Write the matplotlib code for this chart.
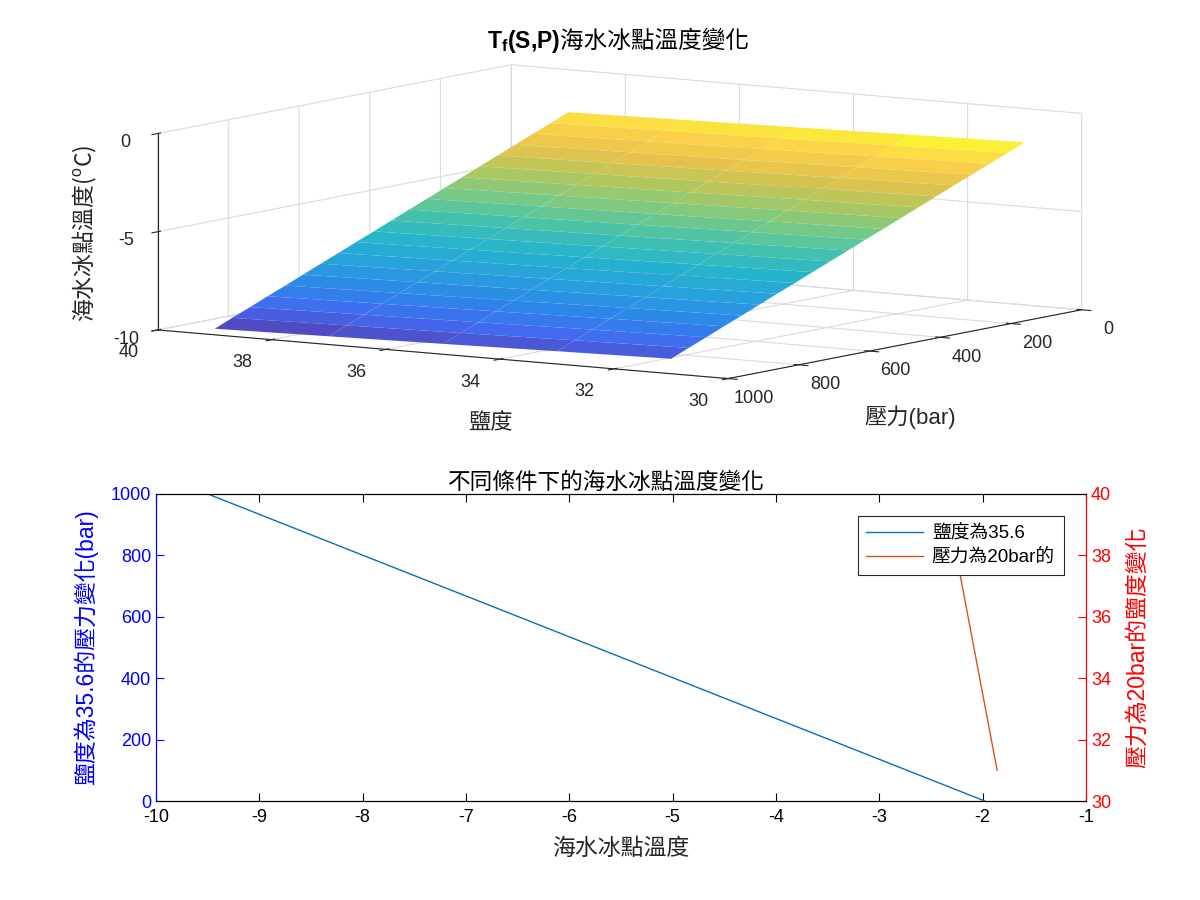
import numpy as np
import matplotlib
matplotlib.use('Agg')
import matplotlib.pyplot as plt
from matplotlib.colors import LinearSegmentedColormap

plt.rcParams['font.family'] = ['Liberation Sans', 'Noto Sans CJK TC', 'DejaVu Sans']
plt.rcParams['axes.unicode_minus'] = False
plt.rcParams['mathtext.fontset'] = 'custom'
plt.rcParams['mathtext.rm'] = 'Noto Sans CJK TC'
plt.rcParams['mathtext.it'] = 'Liberation Sans'
plt.rcParams['mathtext.bf'] = 'Liberation Sans:bold'

# surface: freezing point (rows = salinity, cols = pressure)
salinity = [31, 33, 35, 37, 39]
pressure = [0, 50, 100, 150, 200, 250, 300, 350, 400, 450, 500,
            550, 600, 650, 700, 750, 800, 850, 900, 950, 1000]
tf_table = [
    [-1.72, -2.10, -2.47, -2.85, -3.22, -3.60, -3.98, -4.35, -4.73, -5.10, -5.48,
     -5.86, -6.23, -6.61, -6.98, -7.36, -7.74, -8.11, -8.49, -8.86, -9.24],
    [-1.83, -2.21, -2.58, -2.96, -3.33, -3.71, -4.09, -4.46, -4.84, -5.21, -5.59,
     -5.97, -6.34, -6.72, -7.09, -7.47, -7.85, -8.22, -8.60, -8.97, -9.35],
    [-1.95, -2.33, -2.70, -3.08, -3.45, -3.83, -4.21, -4.58, -4.96, -5.33, -5.71,
     -6.09, -6.46, -6.84, -7.21, -7.59, -7.97, -8.34, -8.72, -9.09, -9.47],
    [-2.06, -2.44, -2.81, -3.19, -3.56, -3.94, -4.32, -4.69, -5.07, -5.44, -5.82,
     -6.20, -6.57, -6.95, -7.32, -7.70, -8.08, -8.45, -8.83, -9.20, -9.58],
    [-2.17, -2.55, -2.92, -3.30, -3.67, -4.05, -4.43, -4.80, -5.18, -5.55, -5.93,
     -6.31, -6.68, -7.06, -7.43, -7.81, -8.19, -8.56, -8.94, -9.31, -9.69],
]

# lower panel lines
p_line = [0, 1000]          # pressure at salinity 35.6
tf_p_line = [-1.98, -9.50]
s_line = [31, 39]           # salinity at 20 bar
tf_s_line = [-1.86, -2.31]

# rough parula, a bit washed out like the mesh on white
anchors = np.array([
    (0.240, 0.150, 0.660), (0.160, 0.330, 0.930), (0.060, 0.460, 0.900),
    (0.045, 0.575, 0.850), (0.030, 0.660, 0.780), (0.160, 0.725, 0.640),
    (0.400, 0.760, 0.460), (0.640, 0.750, 0.290), (0.880, 0.730, 0.200),
    (0.990, 0.800, 0.200), (0.976, 0.983, 0.054)])
anchors = anchors + (1 - anchors) * 0.12
parula = LinearSegmentedColormap.from_list('parula', anchors)

fig = plt.figure(figsize=(12, 9), dpi=100)
dark = '#262626'

# ---------- top: 3D surface ----------
ax3 = fig.add_axes([0.1184, 0.2231, 0.775, 1.0333], projection='3d', proj_type='ortho')
ax3.patch.set_visible(False)
S, P = np.meshgrid(salinity, pressure, indexing='ij')
T = np.array(tf_table)
surf = ax3.plot_surface(S, P, T, cmap=parula, vmin=T.min(), vmax=T.max(),
                        rstride=1, cstride=1, linewidth=0, shade=False,
                        antialiased=True)
ax3.set_xlim(30, 40)
ax3.set_ylim(0, 1000)
ax3.set_zlim(-10, 0)
ax3.set_xticks([30, 32, 34, 36, 38, 40])
ax3.set_yticks([0, 200, 400, 600, 800, 1000])
ax3.set_zticks([-10, -5, 0])
ax3.view_init(elev=7.4, azim=123.5)
ax3.set_box_aspect((677, 634, 196), zoom=1.0)
ax3.zaxis.set_ticks_position('upper')
for a in (ax3.xaxis, ax3.yaxis, ax3.zaxis):
    a.set_pane_color((1, 1, 1, 0))
    a.pane.set_edgecolor('#d9d9d9')
    a._axinfo['grid']['color'] = (0.86, 0.86, 0.86, 1)
    a._axinfo['grid']['linewidth'] = 0.8
    a.line.set_color(dark)
    a.set_tick_params(labelsize=13, colors=dark)
ax3.xaxis.set_tick_params(pad=11)
ax3.yaxis.set_tick_params(pad=8)
ax3.zaxis.set_tick_params(pad=4)
for t in ax3.xaxis.get_majorticklabels():
    t.set_ha('right')

# axis labels and title placed like the reference
fig.text(0.4083, 0.5289, '鹽度', fontsize=16, color=dark, ha='center', va='center')
fig.text(0.7583, 0.5367, '壓力(bar)', fontsize=16, color=dark, ha='center', va='center')
fig.text(0.0708, 0.7411, r'$\mathrm{海水冰點溫度(}^{o}\mathrm{C)}$', fontsize=16.5,
         color=dark, ha='center', va='center', rotation=90)
fig.text(0.4667, 0.947, r'$\mathbf{T_f(S{,}P)}$', fontsize=16.5, ha='right', va='baseline')
fig.text(0.4667, 0.947, '海水冰點溫度變化', fontsize=17, ha='left', va='baseline')

# ---------- bottom: twin y ----------
ax = fig.add_axes([0.13, 0.11, 0.775, 0.3412])
ax2 = ax.twinx()
l1, = ax.plot(tf_p_line, p_line, color='#0072BD', lw=1.0)
l2, = ax2.plot(tf_s_line, s_line, color='#D95319', lw=1.0)
ax.set_xlim(-10, -1)
ax.set_ylim(0, 1000)
ax2.set_ylim(30, 40)
ax.set_xticks(np.arange(-10, 0))
ax.set_yticks([0, 200, 400, 600, 800, 1000])
ax2.set_yticks([30, 32, 34, 36, 38, 40])
ax.tick_params(axis='x', direction='in', top=True, length=6, labelsize=13, pad=6)
ax.tick_params(axis='y', direction='in', length=6, labelsize=13, colors='blue')
ax2.tick_params(axis='y', direction='in', length=6, labelsize=13, colors='red')
ax.spines['left'].set_color('blue')
ax2.spines['left'].set_color('blue')
ax.spines['right'].set_color('red')
ax2.spines['right'].set_color('red')
ax.set_xlabel('海水冰點溫度', fontsize=16.5, color=dark, labelpad=8)
ax.set_ylabel('鹽度為35.6的壓力變化(bar)', fontsize=16.5, color='blue', labelpad=9)
ax2.set_ylabel('壓力為20bar的鹽度變化', fontsize=16.5, color='red', labelpad=11)
ax.set_title('不同條件下的海水冰點溫度變化', fontsize=16.3, pad=3, x=0.484)
leg = ax2.legend([l1, l2], ['鹽度為35.6', '壓力為20bar的'], loc='upper right',
                 fontsize=13.5, frameon=True, fancybox=False, edgecolor=dark,
                 framealpha=1, handlelength=3.0, handletextpad=0.5,
                 borderaxespad=1.2, labelspacing=0.35, borderpad=0.45)
leg.get_frame().set_linewidth(0.8)

fig.savefig('out.png')
